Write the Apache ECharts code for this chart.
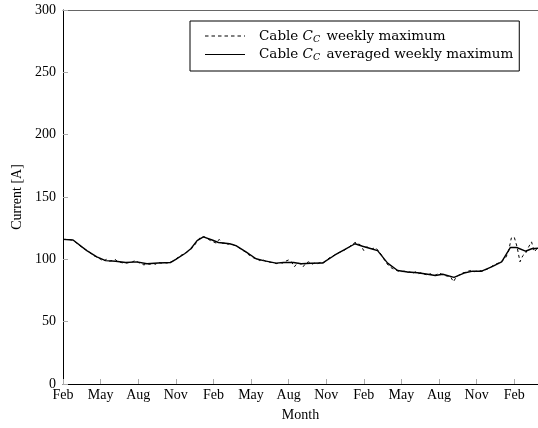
<!DOCTYPE html>
<html><head><meta charset="utf-8">
<script src="https://cdn.jsdelivr.net/npm/echarts@6/dist/echarts.min.js"></script>
<style>html,body{margin:0;padding:0;background:#fff}#c{width:538px;height:428px}</style>
</head><body><div id="c"></div>
<script>
// Tick labels (every 3 months starting at Feb)
const monthLabels = ['Feb', 'May', 'Aug', 'Nov'];
const yTicks = [0, 50, 100, 150, 200, 250, 300];
// Weekly maximum current [A], one value per week starting at Feb of year 1
const weeklyMax = [
  116,116,116,115.5,114.5,112.5,110.5,109,107.5,106,
  104,102.5,101.5,100,98.5,100,98.5,99,100,98,
  97.5,97,97,97.5,98,99,97.5,96.5,95.5,96.5,
  96,97,96,97.5,97,97.5,97,98,98.5,100,
  102,103.5,104,106,107.5,110,113,116.5,118,118,
  116.5,115,114,113,116,113,113,112,113,111.5,
  110.5,109,107.5,106,104,102.5,101,100.5,99,100,
  98.5,98,97.5,97,96.5,97.5,97,98.5,99.5,98,
  94,97,96.5,94,97,98,96,97,96.5,97.5,
  97,99,101,102.5,103.5,105,106,107,108.5,110,
  112,113.5,113,111,107,110,109,108.5,109.5,107,
  104,100,96.5,94,92.5,91.5,90.5,90,90.5,89.5,
  90,89,90,88.5,89.5,88,87.5,88.5,87,87.5,
  89,88,87,86.5,86,82,86,87.5,89,89.5,
  90.5,91,90,90.5,91,90.5,91.5,92.5,94,95.5,
  96.5,97.5,99,101,106,117,118,110,98,103,
  105,110,114,106,109,109
];
const weekInMonths = 12 / 52;
// Averaged weekly maximum: month positions (from first Feb) and values [A]
const avgMonth = [0,0.8,1.9,2.7,3.4,4.2,5,5.9,6.7,7.6,8.6,9,9.7,10.2,10.7,11.2,11.9,12.4,13.3,13.8,14.6,15.4,16,17,17.6,18.4,19,19.8,20.7,21.7,22.5,23.3,23.9,24.6,25.1,25.9,26.7,27.5,28.3,29.1,29.7,30.3,31.2,32,32.7,33.4,34.2,35,35.7,36.2,36.9,37.4,38];
const avgValue = [116,115.5,107,102,99,98.5,97.5,98,96.5,97,97.5,100,104.5,108.5,115,118,115.5,113.5,112.5,111,106,100.5,99,97,97.5,97.5,96.5,96.8,97,103.5,108,112.5,110.5,108.5,107,97,91,89.8,89.2,88,87,88,85.5,89,90.5,90.5,94,98,109.5,109.5,106.5,108.5,109];

const weeklyData = weeklyMax.map((v, i) => [i * weekInMonths, v]);
const avgData = avgMonth.map((m, i) => [m, avgValue[i]]);

const FONT = 'Liberation Serif';
const LFONT = 'DejaVu Serif';
const chart = echarts.init(document.getElementById('c'), null, {renderer: 'canvas'});
const legendFmt = n => n.replace('C_C', '{i|C}{s|C}');
const dashIcon = 'path://M0,0h3.5v1h-3.5z M6.5,0h3.5v1h-3.5z M13,0h3.5v1h-3.5z M19.5,0h3.5v1h-3.5z M26,0h3.5v1h-3.5z M32.5,0h3.5v1h-3.5z M39,0h1v1h-1z';
const solidIcon = 'path://M0,0h40v1h-40z';
chart.setOption({
  animation: false,
  backgroundColor: '#fff',
  grid: {left: 63, right: 0, top: 10, bottom: 44},
  legend: {
    orient: 'vertical', left: 190, top: 21,
    padding: [7, 6, 8, 15], itemGap: 2,
    itemWidth: 40, itemHeight: 1.6,
    borderColor: '#000', borderWidth: 1,
    formatter: legendFmt,
    textStyle: {fontFamily: LFONT, fontSize: 13.5, color: '#000', padding: [0, 0, 0, 9], lineHeight: 16,
      rich: {
        i: {fontFamily: LFONT, fontSize: 13.5, fontStyle: 'italic', color: '#000'},
        s: {fontFamily: LFONT, fontSize: 9.5, fontStyle: 'italic', color: '#000', padding: [7, 2, 0, 0]}
      }},
    data: [
      {name: 'Cable C_C weekly maximum', icon: dashIcon},
      {name: 'Cable C_C averaged weekly maximum', icon: solidIcon}
    ]
  },
  xAxis: [{
    type: 'value', min: 0, max: 37.9, interval: 3,
    name: 'Month', nameLocation: 'middle', nameGap: 24,
    nameTextStyle: {fontFamily: FONT, fontSize: 14, color: '#000'},
    axisLine: {lineStyle: {color: '#000', width: 1}},
    axisTick: {inside: true, length: 5, lineStyle: {color: '#aaa'}},
    axisLabel: {fontFamily: FONT, fontSize: 14, color: '#000', margin: 4, showMaxLabel: false,
      formatter: v => monthLabels[Math.round(v / 3) % 4]},
    splitLine: {show: false}
  }, {
    type: 'value', position: 'top', min: 0, max: 37.9,
    axisLine: {show: true, onZero: false, lineStyle: {color: '#666', width: 1}},
    axisTick: {show: false}, axisLabel: {show: false}, splitLine: {show: false}
  }],
  yAxis: {
    type: 'value', min: yTicks[0], max: yTicks[yTicks.length - 1], interval: 50,
    name: 'Current [A]', nameLocation: 'middle', nameGap: 38,
    nameTextStyle: {fontFamily: FONT, fontSize: 14, color: '#000'},
    axisLine: {show: true, lineStyle: {color: '#000', width: 1}},
    axisTick: {show: true, inside: true, length: 5, lineStyle: {color: '#aaa'}},
    axisLabel: {fontFamily: FONT, fontSize: 14, color: '#000', margin: 7},
    splitLine: {show: false}
  },
  series: [{
    name: 'Cable C_C weekly maximum', type: 'line', data: weeklyData,
    symbol: 'none', lineStyle: {color: '#000', width: 1, type: [3, 3]},
    itemStyle: {color: '#000'}
  }, {
    name: 'Cable C_C averaged weekly maximum', type: 'line', data: avgData,
    symbol: 'none', lineStyle: {color: '#000', width: 1.4},
    itemStyle: {color: '#000'}
  }]
});
</script></body></html>
